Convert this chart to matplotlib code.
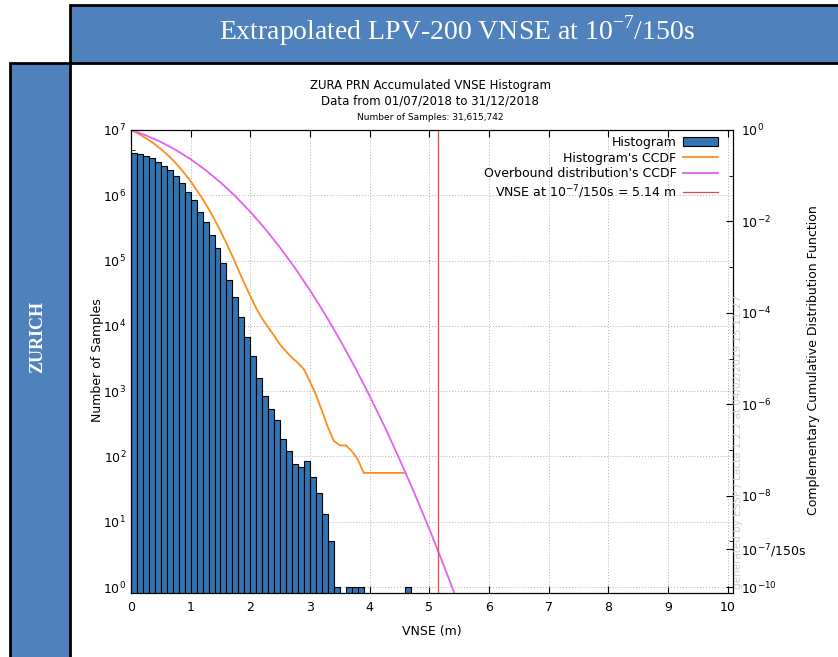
import numpy as np
import matplotlib
matplotlib.use('Agg')
import matplotlib.pyplot as plt
from matplotlib.patches import Rectangle
from matplotlib.lines import Line2D
from matplotlib.ticker import LogLocator, NullFormatter, FixedLocator

# histogram: left edges of 0.1 m bins and counts
bin_edges = [round(0.1 * i, 1) for i in range(47)]
counts = [4.4e6, 4.3e6, 3.95e6, 3.7e6, 3.25e6, 2.8e6, 2.4e6, 1.95e6, 1.55e6, 1.13e6,
          8.5e5, 5.6e5, 3.9e5, 2.5e5, 1.55e5, 9.1e4, 5.0e4, 2.75e4, 1.35e4, 6700,
          3400, 1600, 840, 525, 360, 186, 123, 76, 70, 85,
          48, 28, 13, 5, 1, 0, 1, 1, 1, 0,
          0, 0, 0, 0, 0, 0, 1]

# overbound distribution CCDF
ob_x = [0, 0.25, 0.5, 0.75, 1.0, 1.25, 1.5, 1.75, 2.0, 2.25, 2.5, 2.75, 3.0,
        3.25, 3.5, 3.75, 4.0, 4.25, 4.5, 4.75, 5.0, 5.25, 5.4, 5.5]
ob_ccdf = [1.0, 0.764, 0.548, 0.367, 0.229, 0.133, 0.0714, 0.0355, 0.0162,
           6.85e-3, 2.66e-3, 9.5e-4, 3.11e-4, 9.4e-5, 2.59e-5, 6.57e-6, 1.52e-6,
           3.25e-7, 6.3e-8, 1.13e-8, 1.86e-9, 2.8e-10, 8.6e-11, 3.8e-11]

vnse = 5.14
threshold = 1e-7 / 150

x_ticks = list(range(11))
ccdf_ticks = [1e0, 1e-2, 1e-4, 1e-6, 1e-8, 1e-10]
ccdf_labels = ['$10^{0}$', '$10^{-2}$', '$10^{-4}$', '$10^{-6}$', '$10^{-8}$', '$10^{-10}$']

BLUE_HDR = '#4f81bd'
BAR = '#3274b2'
ORANGE = '#ff8c1a'
MAGENTA = '#e65ff0'
RED = '#e5484d'

W, H = 838, 657


def fx(p):
    return p / W


def fy(p):
    return 1 - p / H


fig = plt.figure(figsize=(W / 100, H / 100), dpi=100)

# header boxes
fig.add_artist(Rectangle((fx(70), fy(63)), fx(775), 58 / H, transform=fig.transFigure,
                         facecolor=BLUE_HDR, edgecolor='black', linewidth=2, clip_on=False))
fig.add_artist(Rectangle((fx(10), fy(665)), fx(60), 602 / H, transform=fig.transFigure,
                         facecolor=BLUE_HDR, edgecolor='black', linewidth=2, clip_on=False))
fig.text(fx(457), fy(31), r'Extrapolated LPV-200 VNSE at 10$^{\mathregular{-7}}$/150s',
         family='Liberation Serif', fontsize=20, color='white', ha='center', va='center')
fig.text(fx(38), fy(337), 'ZURICH', family='Liberation Serif', fontweight='bold',
         fontsize=13, color='white', rotation=90, ha='center', va='center')

# plot titles
fig.text(fx(430), fy(86), 'ZURA PRN Accumulated VNSE Histogram', fontsize=8.5,
         ha='center', va='center')
fig.text(fx(430), fy(101), 'Data from 01/07/2018 to 31/12/2018', fontsize=8.5,
         ha='center', va='center')
fig.text(fx(430), fy(118), 'Number of Samples: 31,615,742', fontsize=6.5,
         ha='center', va='center')

ax = fig.add_axes([fx(131), fy(592.5), 602 / W, 462.5 / H])

edges = np.array(bin_edges)
cnt = np.array(counts, dtype=float)
nz = cnt > 0
ax.bar(edges[nz], cnt[nz], width=0.1, align='edge', bottom=1e-3,
       color=BAR, edgecolor='black', linewidth=0.8, zorder=2)
ax.set_yscale('log')
ax.set_xlim(0, 10.09)
ax.set_ylim(10 ** -0.084, 1e7)
ax.set_xticks(x_ticks)
ax.yaxis.set_major_locator(LogLocator(base=10, numticks=20))
ax.yaxis.set_minor_locator(LogLocator(base=10, subs=(2, 5), numticks=20))
ax.yaxis.set_minor_formatter(NullFormatter())
ax.tick_params(axis='both', which='both', direction='in', labelsize=9)
ax.tick_params(axis='x', top=True, length=5, pad=6)
ax.tick_params(axis='y', which='major', length=5, right=False)
ax.tick_params(axis='y', which='minor', length=3, right=False)
ax.grid(True, which='major', color='#b0b0b0', linestyle=(0, (1, 2)), linewidth=0.7)
ax.set_axisbelow(True)

# CCDF of the histogram, evaluated at each bin's left edge
total = cnt.sum()
ccdf = cnt[::-1].cumsum()[::-1] / total
last = np.nonzero(cnt)[0][-1]

ax2 = ax.twinx()
ax2.set_yscale('log')
ax2.set_ylim(10 ** -10.12, 1)
ax2.plot(edges[:last + 1], ccdf[:last + 1], color=ORANGE, linewidth=1.3)
ax2.plot(ob_x, ob_ccdf, color=MAGENTA, linewidth=1.3)
ax2.axvline(vnse, color=RED, linewidth=0.9)

ax2.yaxis.set_major_locator(FixedLocator(ccdf_ticks + [threshold]))
ax2.set_yticklabels(ccdf_labels + ['$10^{-7}$/150s'])
ax2.yaxis.set_minor_locator(FixedLocator([1e-1, 1e-3, 1e-5, 1e-7, 1e-9]))
ax2.yaxis.set_minor_formatter(NullFormatter())
ax2.tick_params(axis='y', which='both', direction='in', labelsize=9, left=False, pad=6)
ax2.tick_params(axis='y', which='major', length=5)
ax2.tick_params(axis='y', which='minor', length=3)

handles = [Rectangle((0, 0), 1, 1, facecolor=BAR, edgecolor='black', linewidth=0.8),
           Line2D([], [], color=ORANGE, linewidth=1.3),
           Line2D([], [], color=MAGENTA, linewidth=1.3),
           Line2D([], [], color=RED, linewidth=0.9)]
labels = ['Histogram', "Histogram's CCDF", "Overbound distribution's CCDF",
          'VNSE at 10$^{-7}$/150s = 5.14 m']
ax2.legend(handles, labels, loc='upper right', bbox_to_anchor=(0.99, 1.006),
           frameon=False, markerfirst=False, fontsize=9, handlelength=2.8,
           handleheight=0.75, labelspacing=0.22, handletextpad=0.55, borderpad=0.2)

fig.text(fx(432), fy(632), 'VNSE (m)', fontsize=9, ha='center', va='center')
fig.text(fx(97), fy(360), 'Number of Samples', fontsize=9, rotation=90,
         ha='center', va='center')
fig.text(fx(813), fy(360), 'Complementary Cumulative Distribution Function', fontsize=9,
         rotation=90, ha='center', va='center')
fig.text(fx(738), fy(589), 'generated by ESSP / Lacta 1.2.2 at 04/02/2019 15:11:27',
         fontsize=7.5, color='#cccccc', rotation=90, ha='center', va='bottom')

fig.savefig('out.png', dpi=100)
